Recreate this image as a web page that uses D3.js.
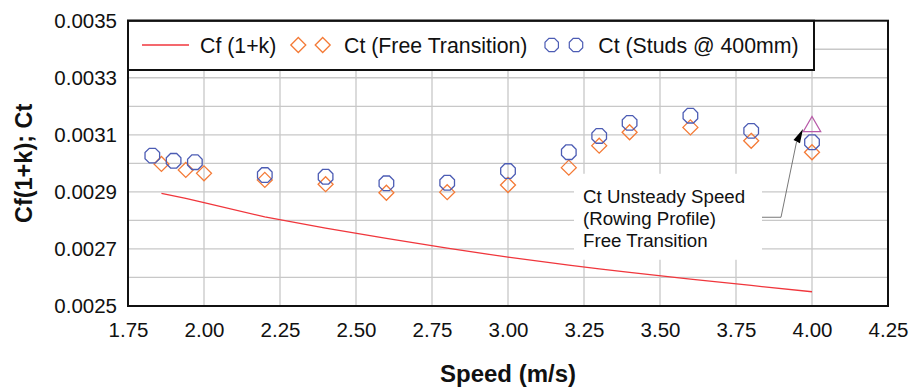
<!DOCTYPE html>
<html>
<head>
<meta charset="utf-8">
<script src="https://cdn.jsdelivr.net/npm/d3@7"></script>
<style>
  html, body { margin: 0; padding: 0; background: #fff; }
  svg { display: block; font-family: "Liberation Sans", Arial, Helvetica, sans-serif; }
</style>
</head>
<body>
<svg id="chart" width="912" height="388"></svg>
<script>
// Skin friction line Cf(1+k)
const cfSpeed = [1.86, 1.94, 2.00, 2.20, 2.40, 2.60, 2.80, 3.00, 3.20, 3.30, 3.40, 3.60, 3.80, 4.00];
const cfValue = [0.002895, 0.002877, 0.002862, 0.002812, 0.002773, 0.002737, 0.002703,
                 0.002671, 0.002643, 0.002630, 0.002618, 0.002594, 0.002572, 0.002550];

// Total resistance, free transition
const freeSpeed = [1.86, 1.94, 2.00, 2.20, 2.40, 2.60, 2.80, 3.00, 3.20, 3.30, 3.40, 3.60, 3.80, 4.00];
const freeValue = [0.002998, 0.002977, 0.002965, 0.002942, 0.002927, 0.002897, 0.002899,
                   0.002924, 0.002985, 0.003062, 0.003109, 0.003126, 0.003079, 0.003039];

// Total resistance, turbulence studs at 400mm
const studSpeed = [1.83, 1.90, 1.97, 2.20, 2.40, 2.60, 2.80, 3.00, 3.20, 3.30, 3.40, 3.60, 3.80, 4.00];
const studValue = [0.003027, 0.003009, 0.003004, 0.002959, 0.002953, 0.002930, 0.002932,
                   0.002973, 0.003039, 0.003096, 0.003142, 0.003167, 0.003114, 0.003074];

// Unsteady (rowing profile) run
const unsteadySpeed = [4.00];
const unsteadyValue = [0.003129];

const xTicks = [1.75, 2.00, 2.25, 2.50, 2.75, 3.00, 3.25, 3.50, 3.75, 4.00, 4.25];
const yTicks = [0.0025, 0.0027, 0.0029, 0.0031, 0.0033, 0.0035];
const yGrid  = [0.0026, 0.0027, 0.0028, 0.0029, 0.0030, 0.0031, 0.0032, 0.0033, 0.0034];

const seriesNames = ["Cf (1+k)", "Ct (Free Transition)", "Ct (Studs @ 400mm)"];
const annotationLines = ["Ct Unsteady Speed", "(Rowing Profile)", "Free Transition"];

const colRed = "#f0363c", colOrange = "#f47a36", colBlue = "#4c5cb4", colPink = "#b85aa8";

const svg = d3.select("#chart");
const plot = { left: 128, right: 888, top: 20.7, bottom: 306 };

const x = d3.scaleLinear().domain([1.75, 4.25]).range([plot.left, plot.right]);
const y = d3.scaleLinear().domain([0.0025, 0.0035]).range([plot.bottom, plot.top]);

// octagon marker used for the stud series
const octagon = {
  draw(ctx, size) {
    const r = Math.sqrt(size / Math.PI);
    for (let i = 0; i < 8; i++) {
      const a = Math.PI / 8 + i * Math.PI / 4;
      const px = r * Math.cos(a), py = r * Math.sin(a);
      if (i === 0) ctx.moveTo(px, py); else ctx.lineTo(px, py);
    }
    ctx.closePath();
  }
};
const octPath = d3.symbol().type(octagon).size(Math.PI * 7.9 * 7.9)();
const diaPath = d3.symbol().type(d3.symbolDiamond2).size(143)();
const triPath = d3.symbol().type(d3.symbolTriangle2).size(215)();

// gridlines
const grid = svg.append("g").attr("stroke", "#c8c8c8").attr("stroke-width", 1.3);
grid.selectAll("line.v").data(xTicks.slice(1, -1)).join("line")
  .attr("x1", d => x(d)).attr("x2", d => x(d))
  .attr("y1", plot.top).attr("y2", plot.bottom);
grid.selectAll("line.h").data(yGrid).join("line")
  .attr("x1", plot.left).attr("x2", plot.right)
  .attr("y1", d => y(d)).attr("y2", d => y(d));

// axes (labels only; the frame is drawn separately)
const xAxis = svg.append("g").attr("transform", `translate(0,${plot.bottom})`)
  .call(d3.axisBottom(x).tickValues(xTicks).tickFormat(d3.format(".2f")).tickSize(0).tickPadding(16));
const yAxis = svg.append("g").attr("transform", `translate(${plot.left},0)`)
  .call(d3.axisLeft(y).tickValues(yTicks).tickFormat(d3.format(".4f")).tickSize(0).tickPadding(11));
[xAxis, yAxis].forEach(a => {
  a.select(".domain").remove();
  a.selectAll("text").attr("font-size", 20.5).attr("fill", "#111")
    .attr("font-family", "'Liberation Sans', Arial, sans-serif");
});

// annotation box (white, sits over the grid)
const annX = x(3.25), annY = y(0.00296);
svg.append("rect").attr("x", annX - 10).attr("y", annY - 1)
  .attr("width", 188).attr("height", 86).attr("fill", "#fff");

// Cf(1+k) line
const line = d3.line().x(d => x(d[0])).y(d => y(d[1]));
svg.append("path").datum(d3.zip(cfSpeed, cfValue))
  .attr("d", line).attr("fill", "none").attr("stroke", colRed).attr("stroke-width", 1.3);

// free transition diamonds
svg.append("g").selectAll("path").data(d3.zip(freeSpeed, freeValue)).join("path")
  .attr("d", diaPath).attr("transform", d => `translate(${x(d[0])},${y(d[1])})`)
  .attr("fill", "none").attr("stroke", colOrange).attr("stroke-width", 1.3);

// stud octagons
svg.append("g").selectAll("path").data(d3.zip(studSpeed, studValue)).join("path")
  .attr("d", octPath).attr("transform", d => `translate(${x(d[0])},${y(d[1])})`)
  .attr("fill", "none").attr("stroke", colBlue).attr("stroke-width", 1.3);

// unsteady triangle
svg.append("g").selectAll("path").data(d3.zip(unsteadySpeed, unsteadyValue)).join("path")
  .attr("d", triPath).attr("transform", d => `translate(${x(d[0])},${y(d[1])})`)
  .attr("fill", "none").attr("stroke", colPink).attr("stroke-width", 1.3);

// annotation text and leader arrow
const annText = svg.append("text").attr("x", annX - 1).attr("y", annY + 28.5)
  .attr("font-size", 18.7).attr("fill", "#111");
annText.selectAll("tspan").data(annotationLines).join("tspan")
  .attr("x", annX - 1).attr("dy", (d, i) => i === 0 ? 0 : 21.7).text(d => d);

const tip = [x(unsteadySpeed[0]) - 9, y(unsteadyValue[0]) + 2.5];
const start = [annX + 178, annY + 42.5];
const elbow = [annX + 197, annY + 42.5];
const base = [tip[0] - 6.5, tip[1] + 13];
svg.append("path").attr("d", d3.line()([start, elbow, base]))
  .attr("fill", "none").attr("stroke", "#555").attr("stroke-width", 0.8);
// arrowhead
const ang = Math.atan2(tip[1] - base[1], tip[0] - base[0]);
const hw = 3.6, hl = 14;
const b0 = [tip[0] - hl * Math.cos(ang), tip[1] - hl * Math.sin(ang)];
const left = [b0[0] + hw * Math.sin(ang), b0[1] - hw * Math.cos(ang)];
const right = [b0[0] - hw * Math.sin(ang), b0[1] + hw * Math.cos(ang)];
svg.append("path").attr("d", d3.line()([tip, left, right]) + "Z").attr("fill", "#000");

// legend box
const lg = svg.append("g");
lg.append("rect").attr("x", plot.left).attr("y", plot.top)
  .attr("width", 814 - plot.left).attr("height", 70 - plot.top)
  .attr("fill", "#fff").attr("stroke", "#111").attr("stroke-width", 2);
const ly = 45;
lg.append("line").attr("x1", 142).attr("x2", 189).attr("y1", ly).attr("y2", ly)
  .attr("stroke", colRed).attr("stroke-width", 1.3);
[298.3, 322.7].forEach(cx => lg.append("path").attr("d", diaPath)
  .attr("transform", `translate(${cx},${ly})`).attr("fill", "none")
  .attr("stroke", colOrange).attr("stroke-width", 1.3));
[551.7, 576].forEach(cx => lg.append("path").attr("d", octPath)
  .attr("transform", `translate(${cx},${ly}) scale(0.92)`).attr("fill", "none")
  .attr("stroke", colBlue).attr("stroke-width", 1.3));
const legendX = [200, 344, 598.3];
lg.selectAll("text").data(seriesNames).join("text")
  .attr("x", (d, i) => legendX[i]).attr("y", ly).attr("dy", "0.36em")
  .attr("font-size", 21.3).attr("fill", "#111").text(d => d);

// plot frame
svg.append("rect").attr("x", plot.left).attr("y", plot.top)
  .attr("width", plot.right - plot.left).attr("height", plot.bottom - plot.top)
  .attr("fill", "none").attr("stroke", "#111").attr("stroke-width", 2);

// axis titles
svg.append("text").attr("x", (plot.left + plot.right) / 2).attr("y", 373).attr("dy", "0.36em")
  .attr("text-anchor", "middle").attr("font-weight", "bold").attr("font-size", 24)
  .attr("fill", "#111").text("Speed (m/s)");
svg.append("text").attr("transform", `translate(24,${(plot.top + plot.bottom) / 2}) rotate(-90)`)
  .attr("dy", "0.36em").attr("text-anchor", "middle").attr("font-weight", "bold")
  .attr("font-size", 23.5).attr("fill", "#111").text("Cf(1+k); Ct");
</script>
</body>
</html>
